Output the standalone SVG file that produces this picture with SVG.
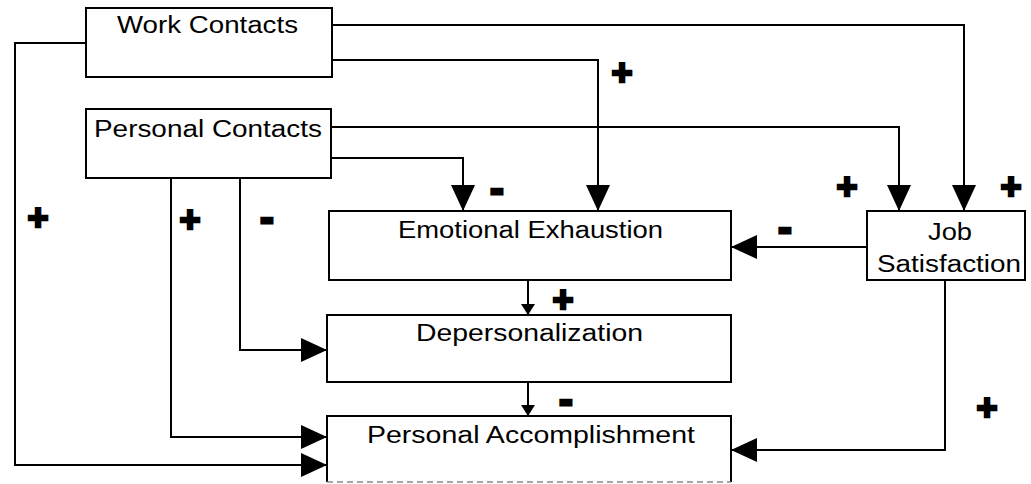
<svg xmlns="http://www.w3.org/2000/svg" width="1031" height="484" viewBox="0 0 1031 484">
<style>
.box{fill:#fff;stroke:#000;stroke-width:2}
.lbl{font-family:"Liberation Sans",Arial,sans-serif;font-size:23px;fill:#000}
.wire{fill:none;stroke:#000;stroke-width:2}
.big{marker-end:url(#ah)}
.small{marker-end:url(#sh)}
.plus{font-family:"Liberation Sans",Arial,sans-serif;font-weight:bold;font-size:36px;fill:#000;stroke:#000;stroke-width:2.5;text-anchor:middle}
.minus{font-family:"Liberation Sans",Arial,sans-serif;font-weight:bold;font-size:40px;fill:#000;stroke:#000;stroke-width:3;text-anchor:middle}
</style>
<defs>
<marker id="ah" markerUnits="userSpaceOnUse" markerWidth="26" markerHeight="26" refX="26" refY="12" orient="auto" viewBox="0 0 26 24">
<path d="M0,0 L26,12 L0,24 Z" fill="#000"/>
</marker>
<marker id="sh" markerUnits="userSpaceOnUse" markerWidth="11" markerHeight="14" refX="11" refY="7" orient="auto" viewBox="0 0 11 14">
<path d="M0,0 L11,7 L0,14 Z" fill="#000"/>
</marker>
</defs>
<rect width="1031" height="484" fill="#fff"/>

<g id="connectors">
<path class="wire big" d="M332,25 H964 V211"/>
<path class="wire big" d="M332,60 H598 V211"/>
<path class="wire big" d="M86,43 H15 V465 H327"/>
<path class="wire big" d="M331,127 H899 V211"/>
<path class="wire big" d="M331,158 H463 V211"/>
<path class="wire big" d="M171,178 V437 H327"/>
<path class="wire big" d="M240,178 V350 H327"/>
<path class="wire big" d="M867,247 H731"/>
<path class="wire big" d="M945,280 V450 H731"/>
<path class="wire small" d="M528,280 V315"/>
<path class="wire small" d="M528,382 V416"/>
</g>

<g id="signs">
<text class="plus" x="622" y="85">+</text>
<text class="minus" x="497" y="202">-</text>
<text class="plus" x="847" y="199">+</text>
<text class="plus" x="1011" y="199">+</text>
<text class="plus" x="38" y="230">+</text>
<text class="plus" x="190" y="232">+</text>
<text class="minus" x="267" y="231">-</text>
<text class="minus" x="785" y="241">-</text>
<text class="plus" x="563" y="312">+</text>
<text class="minus" x="566" y="413">-</text>
<text class="plus" x="987" y="420">+</text>
</g>

<g id="work-contacts">
<rect class="box" x="86" y="8" width="246" height="69"/>
<text class="lbl" x="117" y="33" textLength="181" lengthAdjust="spacingAndGlyphs">Work Contacts</text>
</g>

<g id="personal-contacts">
<rect class="box" x="86" y="109" width="245" height="69"/>
<text class="lbl" x="94" y="137" textLength="228" lengthAdjust="spacingAndGlyphs">Personal Contacts</text>
</g>

<g id="emotional-exhaustion">
<rect class="box" x="329" y="211" width="402" height="69"/>
<text class="lbl" x="398" y="238" textLength="265" lengthAdjust="spacingAndGlyphs">Emotional Exhaustion</text>
</g>

<g id="depersonalization">
<rect class="box" x="327" y="315" width="404" height="67"/>
<text class="lbl" x="416" y="341" textLength="227" lengthAdjust="spacingAndGlyphs">Depersonalization</text>
</g>

<g id="personal-accomplishment">
<rect x="327" y="416" width="404" height="66" fill="#fff"/>
<path d="M327,482 V416 H731 V482" fill="none" stroke="#000" stroke-width="2"/>
<path d="M327,482 H731" fill="none" stroke="#888" stroke-width="1.5" stroke-dasharray="6,4"/>
<text class="lbl" x="367" y="443" textLength="328" lengthAdjust="spacingAndGlyphs">Personal Accomplishment</text>
</g>

<g id="job-satisfaction">
<rect class="box" x="867" y="211" width="158" height="69"/>
<text class="lbl" x="928" y="240" textLength="44" lengthAdjust="spacingAndGlyphs">Job</text>
<text class="lbl" x="877" y="272" textLength="144" lengthAdjust="spacingAndGlyphs">Satisfaction</text>
</g>
</svg>
